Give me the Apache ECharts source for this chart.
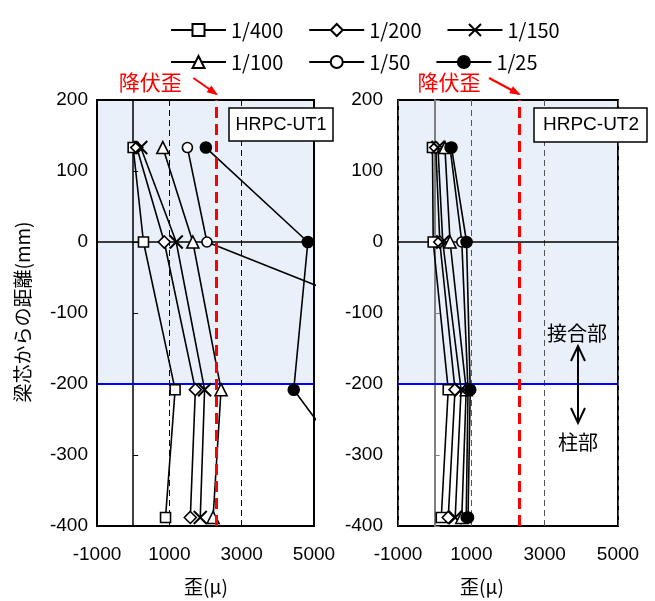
<!DOCTYPE html>
<html>
<head>
<meta charset="utf-8">
<script src="https://cdn.jsdelivr.net/npm/echarts@6/dist/echarts.min.js"></script>
<style>
  html, body { margin: 0; padding: 0; background: #fff; }
  #chart { width: 655px; height: 601px; }
</style>
</head>
<body>
<div id="chart"></div>
<script>
// Drift angles (legend entries)
const driftLabels = ['1/400', '1/200', '1/150', '1/100', '1/50', '1/25'];

// Gauge positions, distance from beam centre (mm)
const gaugeDepth = [133, 0, -208, -388];

// Strains (micro) for specimen HRPC-UT1, top gauge to bottom gauge
const ut1_400 = [0, 285, 1160, 895];
const ut1_200 = [100, 860, 1720, 1580];
const ut1_150 = [210, 1190, 1975, 1855];
const ut1_100 = [820, 1650, 2430, 2210];
const ut1_50  = [1500, 2040, 12300, null];
const ut1_25  = [2010, 4830, 4440, 7050];

// Strains (micro) for specimen HRPC-UT2
const ut2_400 = [-60, -40, 370, 180];
const ut2_200 = [30, 140, 555, 370];
const ut2_150 = [90, 220, 720, 560];
const ut2_100 = [280, 420, 860, 740];
const ut2_50  = [420, 740, 910, 860];
const ut2_25  = [460, 870, 970, 910];

// Reference values
const yieldStrain = 2300;       // yield strain (micro)
const jointBoundary = -200;     // joint / column boundary (mm)
const depthTicks = [-400, -300, -200, -100, 0, 100, 200];
const strainTicks = [-1000, 1000, 3000, 5000];

const panelNames = ['HRPC-UT1', 'HRPC-UT2'];
const panelData = [
  [ut1_400, ut1_200, ut1_150, ut1_100, ut1_50, ut1_25],
  [ut2_400, ut2_200, ut2_150, ut2_100, ut2_50, ut2_25]
];

const CJK = '"Noto Sans CJK JP", sans-serif';
const NUM = '"Liberation Sans", Arial, sans-serif';

const markerStyles = [
  { symbol: 'rect', size: 10, fill: '#fff' },
  { symbol: 'diamond', size: 12, fill: '#fff' },
  { symbol: 'path://M0,0L10,10M10,0L0,10', size: 13, fill: '#fff' },
  { symbol: 'triangle', size: 12, fill: '#fff' },
  { symbol: 'circle', size: 10, fill: '#fff' },
  { symbol: 'circle', size: 11, fill: '#000' }
];

const grids = [
  { left: 97, top: 100, width: 217, height: 426 },
  { left: 398, top: 100, width: 220, height: 426 }
];
const zeroLineColor = ['#000', '#808080'];
const dashColor = ['#000', '#555'];
const labelMargin = [9, 15];
const plainNumber = v => String(v);

const xAxes = [], yAxes = [], series = [];
grids.forEach((g, p) => {
  g.show = true;
  g.borderColor = '#000';
  g.borderWidth = 2;
  g.backgroundColor = 'transparent';

  xAxes.push({
    type: 'value', gridIndex: p,
    min: strainTicks[0], max: strainTicks[strainTicks.length - 1], interval: 2000,
    axisLine: { show: false, onZero: false },
    axisTick: { show: false },
    axisLabel: { fontSize: 19, fontFamily: NUM, color: '#000', margin: 19, formatter: plainNumber },
    splitLine: { show: true, lineStyle: { color: dashColor[p], type: [6, 4], width: 1 } }
  });
  // depth labels
  yAxes.push({
    type: 'value', gridIndex: p, position: 'left',
    min: depthTicks[0], max: depthTicks[depthTicks.length - 1], interval: 100,
    axisLine: { show: false, onZero: false },
    axisTick: { show: false },
    axisLabel: { fontSize: 19, fontFamily: NUM, color: '#000', margin: labelMargin[p], formatter: plainNumber },
    splitLine: { show: false }
  });
  // vertical zero-strain line with tick marks
  yAxes.push({
    type: 'value', gridIndex: p, position: 'left',
    min: depthTicks[0], max: depthTicks[depthTicks.length - 1], interval: 100,
    axisLine: { show: true, onZero: true, lineStyle: { color: zeroLineColor[p], width: p ? 2 : 1.5 } },
    axisTick: { show: true, inside: true, length: 5, lineStyle: { color: zeroLineColor[p], width: 1 } },
    axisLabel: { show: false },
    splitLine: { show: false }
  });

  // shaded joint zone, boundary and zero-depth line
  series.push({
    type: 'line', xAxisIndex: p, yAxisIndex: p * 2, data: [], z: -1,
    silent: true,
    markArea: {
      silent: true, z: -1,
      itemStyle: { color: '#e9f0fa' },
      data: [[{ yAxis: jointBoundary }, { yAxis: depthTicks[depthTicks.length - 1] }]]
    },
    markLine: {
      silent: true, symbol: 'none', label: { show: false }, z: 1,
      data: [
        { yAxis: 0, lineStyle: { color: '#000', width: 1.5, type: 'solid' } },
        { yAxis: jointBoundary, lineStyle: { color: '#0000ff', width: 2, type: 'solid' } }
      ]
    }
  });

  panelData[p].forEach((vals, i) => {
    const m = markerStyles[i];
    series.push({
      type: 'line', name: driftLabels[i], xAxisIndex: p, yAxisIndex: p * 2,
      data: gaugeDepth.map((d, k) => [vals[k], d]),
      symbol: m.symbol, symbolSize: m.size, showAllSymbol: true,
      lineStyle: { color: '#000', width: 1.6 },
      itemStyle: { color: m.fill, borderColor: '#000', borderWidth: i === 2 ? 2 : 1.6 },
      emphasis: { disabled: true },
      clip: true, z: 2 + i * 0.01
    });
  });

  // yield strain line
  series.push({
    type: 'line', xAxisIndex: p, yAxisIndex: p * 2, data: [], z: 5, silent: true,
    markLine: {
      silent: true, symbol: 'none', label: { show: false }, z: 5,
      data: [{ xAxis: yieldStrain, lineStyle: { color: '#ff0000', width: 3, type: [11, 6] } }]
    }
  });
});

const legendCommon = {
  left: 165, itemWidth: 55, itemHeight: 15, itemGap: 25, selectedMode: false,
  textStyle: { fontSize: 20, fontFamily: CJK, color: '#000', width: 58 }
};

const chart = echarts.init(document.getElementById('chart'), null, { renderer: 'canvas' });
chart.setOption({
  animation: false,
  backgroundColor: '#fff',
  legend: [
    Object.assign({ top: 15, data: driftLabels.slice(0, 3) }, legendCommon),
    Object.assign({ top: 47, data: driftLabels.slice(3) }, legendCommon)
  ],
  grid: grids,
  xAxis: xAxes,
  yAxis: yAxes,
  series: series
});

// annotations placed from axis coordinates
const g = [];
[0, 1].forEach(p => {
  const tip = chart.convertToPixel({ gridIndex: p }, [yieldStrain, depthTicks[depthTicks.length - 1]]);
  const tx = tip[0], ty = tip[1] - 6;
  const sx = tx - (p ? 30 : 23), sy = ty - 16;
  g.push({
    type: 'text', x: tx - (p ? 70 : 66), y: 82, z: 10,
    style: { text: '降伏歪', fill: '#ff0000', font: '21px ' + CJK, align: 'center', verticalAlign: 'middle' }
  });
  g.push({ type: 'line', z: 10, shape: { x1: sx, y1: sy, x2: tx, y2: ty }, style: { stroke: '#ff0000', lineWidth: 2 } });
  const ang = Math.atan2(ty - sy, tx - sx);
  const L = 9, W = 4;
  g.push({
    type: 'polygon', z: 10,
    shape: { points: [
      [tx + 2 * Math.cos(ang), ty + 2 * Math.sin(ang)],
      [tx - L * Math.cos(ang) - W * Math.sin(ang), ty - L * Math.sin(ang) + W * Math.cos(ang)],
      [tx - L * Math.cos(ang) + W * Math.sin(ang), ty - L * Math.sin(ang) - W * Math.cos(ang)]
    ] },
    style: { fill: '#ff0000' }
  });
});

// specimen name boxes
g.push({ type: 'rect', shape: { x: 229, y: 108, width: 104, height: 33 }, style: { fill: '#fff', stroke: '#000', lineWidth: 1.5 }, z: 10 });
g.push({ type: 'text', x: 281, y: 125, z: 11, style: { text: panelNames[0], font: '18px ' + NUM, fill: '#000', align: 'center', verticalAlign: 'middle' } });
g.push({ type: 'rect', shape: { x: 534, y: 108, width: 113, height: 34 }, style: { fill: '#fff', stroke: '#000', lineWidth: 1.5 }, z: 10 });
g.push({ type: 'text', x: 591, y: 125, z: 11, style: { text: panelNames[1], font: '19px ' + NUM, fill: '#000', align: 'center', verticalAlign: 'middle' } });

// axis titles
g.push({ type: 'text', x: 206, y: 587, z: 10, style: { text: '歪(μ)', font: '19px ' + CJK, fill: '#000', align: 'center', verticalAlign: 'middle' } });
g.push({ type: 'text', x: 482, y: 587, z: 10, style: { text: '歪(μ)', font: '19px ' + CJK, fill: '#000', align: 'center', verticalAlign: 'middle' } });
g.push({ type: 'text', x: 23, y: 312, z: 10, rotation: Math.PI / 2, style: { text: '梁芯からの距離(mm)', font: '19px ' + CJK, fill: '#000', align: 'center', verticalAlign: 'middle' } });

// joint / column region note
g.push({ type: 'text', x: 577, y: 333, z: 10, style: { text: '接合部', font: '20px ' + CJK, fill: '#000', align: 'center', verticalAlign: 'middle' } });
g.push({ type: 'text', x: 578, y: 442, z: 10, style: { text: '柱部', font: '20px ' + CJK, fill: '#000', align: 'center', verticalAlign: 'middle' } });
g.push({ type: 'line', z: 10, shape: { x1: 578, y1: 346, x2: 578, y2: 423 }, style: { stroke: '#000', lineWidth: 2 } });
g.push({ type: 'polyline', z: 10, shape: { points: [[571, 361], [578, 346], [585, 361]] }, style: { stroke: '#000', lineWidth: 2, fill: null } });
g.push({ type: 'polyline', z: 10, shape: { points: [[571, 408], [578, 423], [585, 408]] }, style: { stroke: '#000', lineWidth: 2, fill: null } });

chart.setOption({ graphic: g });
</script>
</body>
</html>
